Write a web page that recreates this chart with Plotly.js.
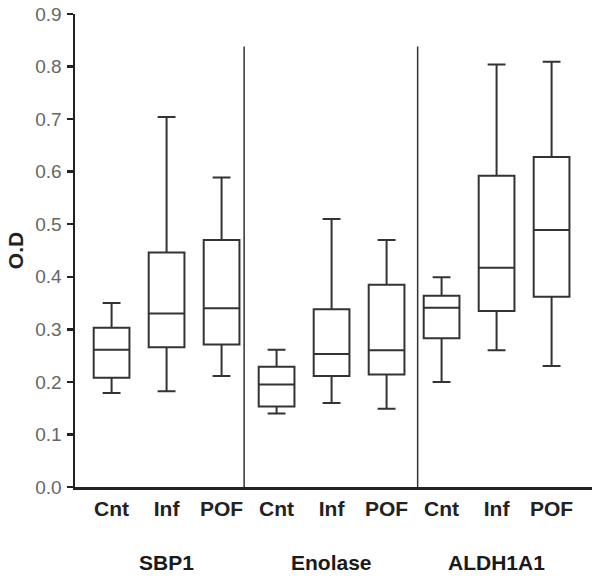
<!DOCTYPE html>
<html>
<head>
<meta charset="utf-8">
<script src="https://cdn.plot.ly/plotly-3.0.1.min.js"></script>
<style>html,body{margin:0;padding:0;background:#fff;}#chart{width:601px;height:576px;}</style>
</head>
<body>
<div id="chart"></div>
<script>
// Data
const groups = ["SBP1", "Enolase", "ALDH1A1"];
const conditions = ["Cnt", "Inf", "POF"];
const lowerWhisker = [0.179, 0.182, 0.211, 0.140, 0.160, 0.149, 0.200, 0.260, 0.230];
const q1Values     = [0.208, 0.266, 0.271, 0.153, 0.211, 0.214, 0.283, 0.335, 0.362];
const medianValues = [0.261, 0.330, 0.340, 0.195, 0.253, 0.260, 0.341, 0.417, 0.489];
const q3Values     = [0.303, 0.446, 0.470, 0.229, 0.338, 0.385, 0.364, 0.592, 0.628];
const upperWhisker = [0.350, 0.704, 0.589, 0.261, 0.510, 0.470, 0.399, 0.804, 0.809];
const yTicks = [0, 0.1, 0.2, 0.3, 0.4, 0.5, 0.6, 0.7, 0.8, 0.9];

const positions = [];
const tickText = [];
groups.forEach((g, gi) => conditions.forEach((c, ci) => {
  positions.push(gi * 3 + ci + 1);
  tickText.push(c);
}));

const trace = {
  type: "box",
  x: positions,
  q1: q1Values,
  median: medianValues,
  q3: q3Values,
  lowerfence: lowerWhisker,
  upperfence: upperWhisker,
  width: 0.65,
  whiskerwidth: 0.5,
  fillcolor: "#ffffff",
  line: { color: "#333333", width: 2 },
  boxpoints: false,
  hoverinfo: "skip",
  showlegend: false
};

const shapes = [3.41, 6.565].map(xv => ({
  type: "line", xref: "x", yref: "y",
  x0: xv, x1: xv, y0: 0, y1: 0.838,
  line: { color: "#333333", width: 1.5 }
}));

const annotations = groups.map((g, gi) => ({
  text: "<b>" + g + "</b>",
  x: gi * 3 + 2, xref: "x",
  y: -0.159, yref: "paper",
  yanchor: "middle",
  showarrow: false,
  font: { family: "Liberation Sans, Arial, sans-serif", size: 21, color: "#1a1a1a" }
}));

const layout = {
  width: 601, height: 576,
  margin: { l: 75, r: 9, t: 14, b: 89.3 },
  paper_bgcolor: "#ffffff",
  plot_bgcolor: "#ffffff",
  font: { family: "Liberation Sans, Arial, sans-serif" },
  xaxis: {
    range: [0.335, 9.735],
    tickvals: positions,
    ticktext: tickText.map(t => "<b>" + t + "</b>"),
    ticks: "",
    showgrid: false,
    zeroline: false,
    showline: true,
    linecolor: "#222222",
    linewidth: 2.5,
    tickfont: { size: 21, color: "#222222" },
    ticklabelstandoff: 1
  },
  yaxis: {
    range: [0, 0.9],
    tickvals: yTicks,
    ticktext: yTicks.map(v => v.toFixed(1)),
    ticks: "outside",
    ticklen: 6,
    tickwidth: 2.5,
    tickcolor: "#222222",
    showgrid: false,
    zeroline: false,
    showline: true,
    linecolor: "#222222",
    linewidth: 2.5,
    tickfont: { size: 19, color: "#666666" },
    ticklabelstandoff: 1,
    title: { text: "<b>O.D</b>", font: { size: 21, color: "#222222" }, standoff: 6 }
  },
  shapes: shapes,
  annotations: annotations
};

Plotly.newPlot("chart", [trace], layout, { displayModeBar: false, staticPlot: true });
</script>
</body>
</html>
